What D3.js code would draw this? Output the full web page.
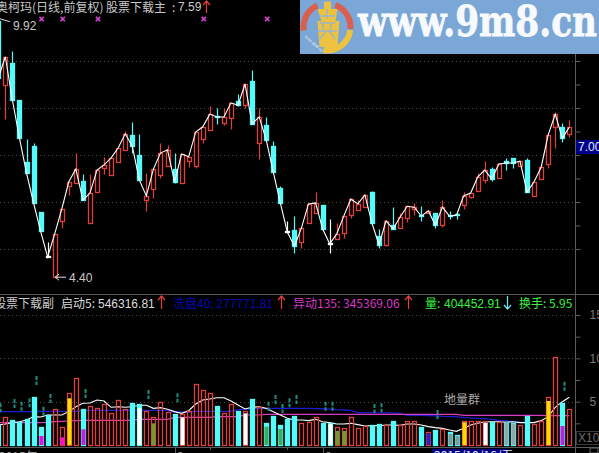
<!DOCTYPE html>
<html><head><meta charset="utf-8">
<style>html,body{margin:0;padding:0;background:#000;overflow:hidden}svg{display:block}</style>
<script src="https://cdn.jsdelivr.net/npm/d3@7"></script></head><body>
<svg id="c" width="599" height="453"></svg>
<script>
const open=[9.85,8.49,8.96,8.17,6.85,7.19,5.79,4.86,4.40,5.60,6.34,6.40,6.45,5.55,6.21,6.72,6.57,6.85,7.11,7.43,7.00,6.04,6.28,6.57,6.77,6.70,6.40,6.87,6.77,7.34,7.53,7.83,7.68,7.79,8.15,8.06,8.57,7.26,7.64,7.19,6.30,5.38,5.40,5.15,5.55,5.77,5.94,5.13,5.21,5.34,5.72,5.83,5.89,6.21,5.28,5.09,5.51,5.45,5.66,5.85,5.72,5.77,5.77,5.51,5.72,5.74,5.94,6.11,6.23,6.47,6.70,6.51,6.87,6.94,6.77,6.89,6.13,6.49,6.81,7.60,7.60,7.45];
const close=[8.64,9.09,8.17,7.36,6.62,5.98,5.38,4.83,5.32,5.85,6.43,6.70,6.04,6.19,6.68,6.79,6.94,7.15,7.45,7.19,6.47,6.13,6.70,7.04,7.11,6.43,7.02,6.96,7.49,7.60,7.87,7.81,7.81,8.11,8.06,8.51,7.66,7.81,7.32,6.64,5.98,5.36,5.06,5.45,5.96,5.98,5.43,5.11,5.32,5.70,6.06,5.96,6.15,5.55,5.09,5.60,5.43,5.68,5.91,5.89,5.70,5.81,5.51,5.89,5.70,5.72,6.13,6.19,6.53,6.68,6.49,6.81,6.83,6.83,6.87,6.21,6.43,6.74,7.43,7.87,7.36,7.59];
const high=[9.92,9.09,9.21,8.17,7.34,7.25,5.79,5.15,5.32,5.85,6.43,7.04,6.60,6.60,6.68,6.96,6.94,7.15,7.51,7.70,7.45,6.62,6.70,7.26,7.21,7.04,7.02,6.96,7.49,7.60,8.04,8.00,8.00,8.11,8.30,8.51,8.81,8.00,7.81,7.30,6.34,5.60,5.70,5.45,5.96,6.21,5.94,5.64,5.55,5.70,6.06,6.04,6.15,6.23,5.43,5.60,5.89,5.77,5.91,5.98,5.91,5.81,5.77,6.04,5.81,5.79,6.21,6.19,6.62,6.87,6.74,6.81,6.94,6.94,6.87,6.94,6.43,6.74,7.43,7.87,7.68,7.75];
const low=[8.64,7.77,8.17,7.36,6.62,5.98,5.38,4.83,4.40,5.45,6.15,6.40,6.04,5.55,6.21,6.60,6.57,6.85,7.11,7.04,6.47,5.81,6.09,6.51,6.77,6.40,6.40,6.74,6.72,7.26,7.53,7.66,7.64,7.55,8.04,8.00,7.66,6.92,7.32,6.64,5.98,5.34,4.91,5.02,5.55,5.77,5.43,4.91,5.21,5.23,5.66,5.83,5.89,5.55,5.02,5.06,5.43,5.45,5.57,5.72,5.60,5.77,5.45,5.47,5.64,5.64,5.85,6.09,6.23,6.40,6.45,6.51,6.68,6.72,6.77,6.21,6.13,6.49,6.72,7.15,7.28,7.38];
const whiteDoji=[7,41,47];
const priceTicks=[5,5.5,6,6.5,7,7.5,8,8.5,9];
const priceGrid=[5,6,7,8,9];
const starIdx=[6,9,14,29,38];
const volume=[2.3,3.27,2.88,2.62,3.0,5.5,2.04,3.46,4.12,2.04,5.96,7.69,4.15,4.5,4.23,4.73,3.65,5.19,4.15,4.81,4.73,3.92,3.19,4.92,3.77,3.58,3.54,3.96,7.0,6.35,5.96,4.5,3.65,4.69,3.92,3.96,5.31,4.35,2.5,3.35,2.31,3.0,3.35,2.5,2.69,3.19,2.58,2.58,2.04,1.92,3.27,1.92,2.19,2.31,2.38,2.31,2.77,2.31,2.77,2.81,2.08,1.54,1.73,1.85,1.46,1.15,2.81,2.73,2.81,2.81,2.62,2.69,2.65,2.54,2.31,3.35,2.42,2.81,5.58,10.12,4.81,4.12];
const innerIdx=[6,9,10,12,20,22,26,35,38,40,47,48,49,61,64,65,66,69,72,73,78,80];
const innerVal=[1.04,0.88,5.38,1.81,4.23,2.5,3.19,3.65,2.12,1.85,2.42,1.62,1.62,1.35,1.27,1.04,2.62,2.58,2.6,2.46,5.08,2.19];
const innerColor=["#e010e0","#ff10d0","#ffdc00","#c020e0","#ffffff","#6f9a30","#ffffff","#ffffff","#34b060","#34b060","#ffffff","#6f9a30","#6f9a30","#2a20c8","#7f9a9a","#7f9a9a","#ffdc00","#ffffff","#90a8a8","#90a8a8","#ffdc00","#c020e0"];
const volWhite=[2.3,2.42,2.58,2.69,2.88,3.27,3.23,3.46,3.46,3.46,3.85,4.42,4.81,4.85,5.19,5.08,4.35,4.42,4.35,4.42,4.58,4.58,4.23,4.31,4.12,3.85,3.65,3.96,4.73,5.19,5.31,5.46,5.46,5.08,4.62,4.15,4.35,4.42,4.23,3.85,3.46,3.08,2.88,2.88,2.81,2.96,2.69,2.58,2.42,2.42,2.5,2.35,2.19,2.23,2.23,2.31,2.31,2.27,2.42,2.42,2.31,2.12,2.0,1.92,1.73,1.58,1.92,2.31,2.5,2.69,2.69,2.69,2.62,2.69,2.58,2.58,2.58,2.81,3.27,4.35,5.0,5.5];
const volBlue=[3.85,3.85,3.85,3.85,3.85,3.85,3.88,3.88,3.88,3.88,3.88,3.88,4.0,4.0,4.0,4.0,4.0,4.0,4.0,4.0,4.0,4.0,4.0,4.0,4.0,3.81,3.81,3.81,3.88,3.88,3.88,3.88,3.88,3.88,4.08,4.15,4.15,4.19,4.19,4.23,4.23,4.23,4.23,4.23,4.23,4.2,4.18,4.15,4.08,4.04,4.0,3.73,3.73,3.73,3.7,3.7,3.7,3.65,3.42,3.42,3.42,3.38,3.35,3.3,3.27,3.27,3.15,3.12,3.08,3.04,2.96,2.85,2.8,2.69,2.65,2.58];
const volPink=[2.58,2.58,2.58,2.58,2.58,2.58,2.58,2.62,2.69,2.73,2.77,2.81,2.85,2.85,2.85,2.85,2.85,2.85,2.85,2.85,2.96,2.96,2.96,2.96,2.96,3.19,3.19,3.19,3.19,3.19,3.19,3.27,3.27,3.27,3.27,3.46,3.46,3.46,3.54,3.54,3.54,3.54,3.54,3.54,3.54,3.54,3.54,3.54,3.54,3.54,3.54,3.54,3.54,3.54,3.54,3.54,3.54,3.54,3.54,3.54,3.54,3.54,3.54,3.54,3.54,3.54,3.42,3.42,3.42,3.42,3.42,3.42,3.42,3.42,3.42,3.42,3.42,3.42,3.38,3.38,3.38,3.38];
const markIdx=[0,2,3,4,5,6,7,12,21,25,38,39,40,41,42,46,47,53,54,62,80];
const markTop=[4.81,5.31,5.0,5.38,7.96,4.42,5.88,6.46,6.35,5.96,5.0,5.77,4.73,5.38,5.77,5.0,5.0,4.73,4.81,4.04,7.31];
const volTicks=[2.5,5,7.5,10,12.5,15];
const volGrid=[5,10,15];
const headerParts=["奥柯玛(日线,前复权)","股票下载主",":","7.59"];
const rowParts=["股票下载副","启动5:","546316.81","洗盘40: 277771.81","异动135: 345369.06","量:","404452.91","换手: 5.95"];

const svg=d3.select("#c");
const CY="#55fbfb",RD="#e0403c",AX="#5a5a5a",TX="#c9c9c9";
const x=d3.scaleLinear([0,81],[-1.7,569.35]);
const y=d3.scaleLinear([5,10],[249,14]);
const v=d3.scaleLinear([0,15],[445,315]);
const cx=i=>Math.round(x(i))+0.5;
const sy=f=>Math.round(f)+0.5;
const N=d3.range(open.length);
svg.append("defs").append("clipPath").attr("id","pl").append("rect").attr("width",575.5).attr("height",453);

// banner
const bn=svg.append("g");
bn.append("rect").attr("x",300).attr("width",299).attr("height",54).attr("fill","#7ba7d6");
const arc=d3.arc().innerRadius(20.5).outerRadius(26.5);
const lg=bn.append("g").attr("transform","translate(327,27)");
lg.append("path").attr("d",arc({startAngle:-1.72,endAngle:-0.42})).attr("fill","#d9604e");
lg.append("path").attr("d",arc({startAngle:0.36,endAngle:1.66})).attr("fill","#d9604e");
lg.append("path").attr("d",arc({startAngle:1.7,endAngle:3.3})).attr("fill","#edc23e");
lg.append("path").attr("d","M-3,-25.5h7v7.5h-7zM-9.5,-18h20l-2,12h4l-2,26h-5l-2,5h-4l-2,-5h-5l-2,-26h4z").attr("fill","#edc23e");
lg.append("path").attr("d","M-7,-11h15M0,-18v10M-7,-4h15M-9,4h19M-4,-4v8M4,-4v8M-7,12l6,-8M8,12l-6,-8").attr("stroke","#9db4c8").attr("stroke-width",1.4).attr("fill","none");
bn.append("text").attr("transform","translate(304.5,37) rotate(42)").attr("font-size",4).attr("font-family","Liberation Sans").attr("fill","#f3f6fa").text("www.9m8.cn");
bn.append("text").attr("x",358).attr("y",36).attr("font-family","DejaVu Serif").attr("font-weight","bold").attr("font-size",43).attr("textLength",239).attr("lengthAdjust","spacingAndGlyphs").attr("fill","#f7fafd").attr("stroke","#f7fafd").attr("stroke-width",0.8).text("www.9m8.cn");

// grid
const gridG=svg.append("g").attr("stroke","#4a4a4a").attr("stroke-dasharray","1,3");
gridG.selectAll(".p").data(priceGrid).join("line").attr("x1",0).attr("x2",576).attr("y1",d=>sy(y(d))).attr("y2",d=>sy(y(d)));
gridG.selectAll(".v").data(volGrid).join("line").attr("x1",0).attr("x2",576).attr("y1",d=>sy(v(d))).attr("y2",d=>sy(v(d)));

// panel frames
svg.append("line").attr("x1",0).attr("x2",599).attr("y1",294.5).attr("y2",294.5).attr("stroke",AX);
svg.append("line").attr("x1",0).attr("x2",599).attr("y1",447.5).attr("y2",447.5).attr("stroke",AX);
svg.append("line").attr("x1",575.5).attr("x2",575.5).attr("y1",54).attr("y2",453).attr("stroke",AX);

// axes
const ay=svg.append("g").attr("transform","translate(575.5,0)").call(d3.axisRight(y).tickValues(priceTicks).tickSize(5).tickFormat(""));
ay.select(".domain").remove();ay.selectAll("line").attr("stroke",AX);
const av=svg.append("g").attr("transform","translate(575.5,0)").call(d3.axisRight(v).tickValues(volTicks).tickSize(5).tickFormat(d=>volGrid.includes(d)?d:""));
av.select(".domain").remove();av.selectAll("line").attr("stroke",AX);
av.selectAll("text").attr("fill","#7a7a7a").attr("font-family","Liberation Sans").attr("font-size",12).attr("x",14);

// last price box
svg.append("rect").attr("x",576).attr("y",140).attr("width",23).attr("height",14).attr("fill","#000088");
svg.append("text").attr("x",578).attr("y",151).attr("font-family","Liberation Sans").attr("font-size",12).attr("fill","#e8e8f8").text(d3.format(".2f")(7));

// candles
const cg=svg.append("g").attr("clip-path","url(#pl)");
const col=i=>whiteDoji.includes(i)?"#f0ffff":(close[i]>=open[i]?RD:CY);
cg.selectAll(".w").data(N).join("line").attr("x1",cx).attr("x2",cx).attr("y1",i=>sy(y(high[i]))).attr("y2",i=>sy(y(low[i]))).attr("stroke",col).attr("stroke-width",1.2);
cg.selectAll(".b").data(N).join("rect")
 .attr("x",i=>cx(i)-2).attr("width",4)
 .attr("y",i=>sy(y(Math.max(open[i],close[i]))))
 .attr("height",i=>Math.max(1,Math.round(Math.abs(y(open[i])-y(close[i])))))
 .attr("fill",i=>close[i]>=open[i]?"#000":col(i))
 .attr("stroke",col).attr("stroke-width",1.3);
const ln=d3.line().x((d,i)=>x(i)).y(d=>y(d));
cg.append("path").attr("d",ln(close)).attr("fill","none").attr("stroke","#fff").attr("stroke-width",1.1);

// stars
const star=d3.symbol().type(d3.symbolX||d3.symbolCross).size(14);
svg.selectAll(".s").data(starIdx).join("path").attr("transform",i=>`translate(${x(i)+1},19)`).attr("d",star()).attr("stroke","#d43fd4").attr("stroke-width",1.6).attr("fill","none");

// extremes
const tg=svg.append("g").attr("font-family","Liberation Sans").attr("font-size",12).attr("fill",TX);
const hi=d3.max(high),lo=d3.min(low);
svg.append("path").attr("d",`M0,${y(hi)+1}L10,${y(hi)+4}`).attr("stroke","#ddd").attr("fill","none");
tg.append("text").attr("x",13).attr("y",30).text(hi.toFixed(2));
svg.append("path").attr("d",`M66,${y(lo)}H55M59,${y(lo)-3}L55,${y(lo)}L59,${y(lo)+3}`).attr("stroke","#ddd").attr("fill","none");
tg.append("text").attr("x",69).attr("y",y(lo)+5).text(lo.toFixed(2));

// volume lines (behind the bars)
const vg=svg.append("g").attr("clip-path","url(#pl)");
const vl=d3.line().x((d,i)=>x(i)).y(d=>v(d));
vg.append("path").attr("d",vl(volBlue)).attr("fill","none").attr("stroke","#1c1cd0").attr("stroke-width",1.3);
vg.append("path").attr("d",vl(volPink)).attr("fill","none").attr("stroke","#d83cc0").attr("stroke-width",1.2);
vg.append("path").attr("d",vl(volWhite)).attr("fill","none").attr("stroke","#fff").attr("stroke-width",1.1);
// volume bars
const volRed=i=>close[i]>open[i];
vg.selectAll(".vb").data(N).join("rect")
 .attr("x",i=>cx(i)-2).attr("width",4)
 .attr("y",i=>sy(v(volume[i]))).attr("height",i=>445.5-sy(v(volume[i])))
 .attr("fill",i=>volRed(i)?"none":CY)
 .attr("stroke",i=>volRed(i)?RD:CY).attr("stroke-width",1.3);
vg.selectAll(".vi").data(innerIdx).join("rect")
 .attr("x",i=>cx(i)-2).attr("width",4)
 .attr("y",(i,k)=>v(innerVal[k])).attr("height",(i,k)=>v(0)-v(innerVal[k]))
 .attr("fill",(i,k)=>innerColor[k]);
// small marks
vg.selectAll(".m").data(markIdx).join("line")
 .attr("x1",i=>cx(i)+2).attr("x2",i=>cx(i)+2)
 .attr("y1",(i,k)=>v(markTop[k])).attr("y2",(i,k)=>v(markTop[k])+9)
 .attr("stroke","#1f8f86").attr("stroke-width",2).attr("stroke-dasharray","4,1.5");

// header text
const cjk="'Noto Sans CJK SC','Liberation Sans'";
function T(xp,yp,s,c,fam,size){return svg.append("text").attr("x",xp).attr("y",yp).attr("fill",c).attr("font-family",fam||cjk).attr("font-size",size||12).text(s);}
T(-4,12,headerParts[0],TX);T(106,12,headerParts[1],TX);T(172,12,headerParts[2],TX);
T(178,11,headerParts[3],TX,"Liberation Sans");
function arrow(xp,y0,y1,c,down){
 const tip=down?y1:y0,s=down?-1:1;
 svg.append("path").attr("d",`M${xp},${y0}V${y1}M${xp-3.5},${tip+4*s}L${xp},${tip}L${xp+3.5},${tip+4*s}`).attr("stroke",c).attr("stroke-width",1.2).attr("fill","none");
}
arrow(206.5,1,13,"#e84040");
const ry=308;
T(-6,ry,rowParts[0],TX);T(61,ry,rowParts[1],"#dcdcdc");T(98,ry,rowParts[2],"#dcdcdc","Liberation Sans");
arrow(161.5,296,309,"#e84040");
T(173,ry,rowParts[3],"#0808b4");arrow(281.5,296,309,"#e84040");
T(293,ry,rowParts[4],"#d838c8");arrow(408.5,296,309,"#e84040");
T(425,ry,rowParts[5],"#3cf040");T(444,ry,rowParts[6],"#3cf040","Liberation Sans");arrow(507.5,296,309,"#70e8f8",true);
T(519,ry,rowParts[7],"#3cf040");
T(444,404,"地量群","#a8a8a8");

// X10 box and footer
svg.append("rect").attr("x",576.5).attr("y",431.5).attr("width",23).attr("height",13).attr("fill","none").attr("stroke","#3a3a3a");
T(578,442,"X10","#6e6e6e","Liberation Sans");
const xticks=svg.append("g").attr("stroke",AX);
xticks.selectAll("line").data([25,30,46,41]).join("line").attr("x1",cx).attr("x2",cx).attr("y1",447).attr("y2",i=>i===25||i===46?453:450);
T(-1,461,"2015年","#9a9a9a");T(177,461,"3","#9a9a9a","Liberation Sans");T(325,461,"8","#9a9a9a","Liberation Sans");
svg.append("rect").attr("x",432).attr("y",449).attr("width",76).attr("height",4).attr("fill","#000088");
T(434,460,"2015/10/16/五","#e8e8f8");
svg.append("rect").attr("x",590).attr("y",448).attr("width",8).attr("height",5).attr("fill","none").attr("stroke","#666");
</script></body></html>
